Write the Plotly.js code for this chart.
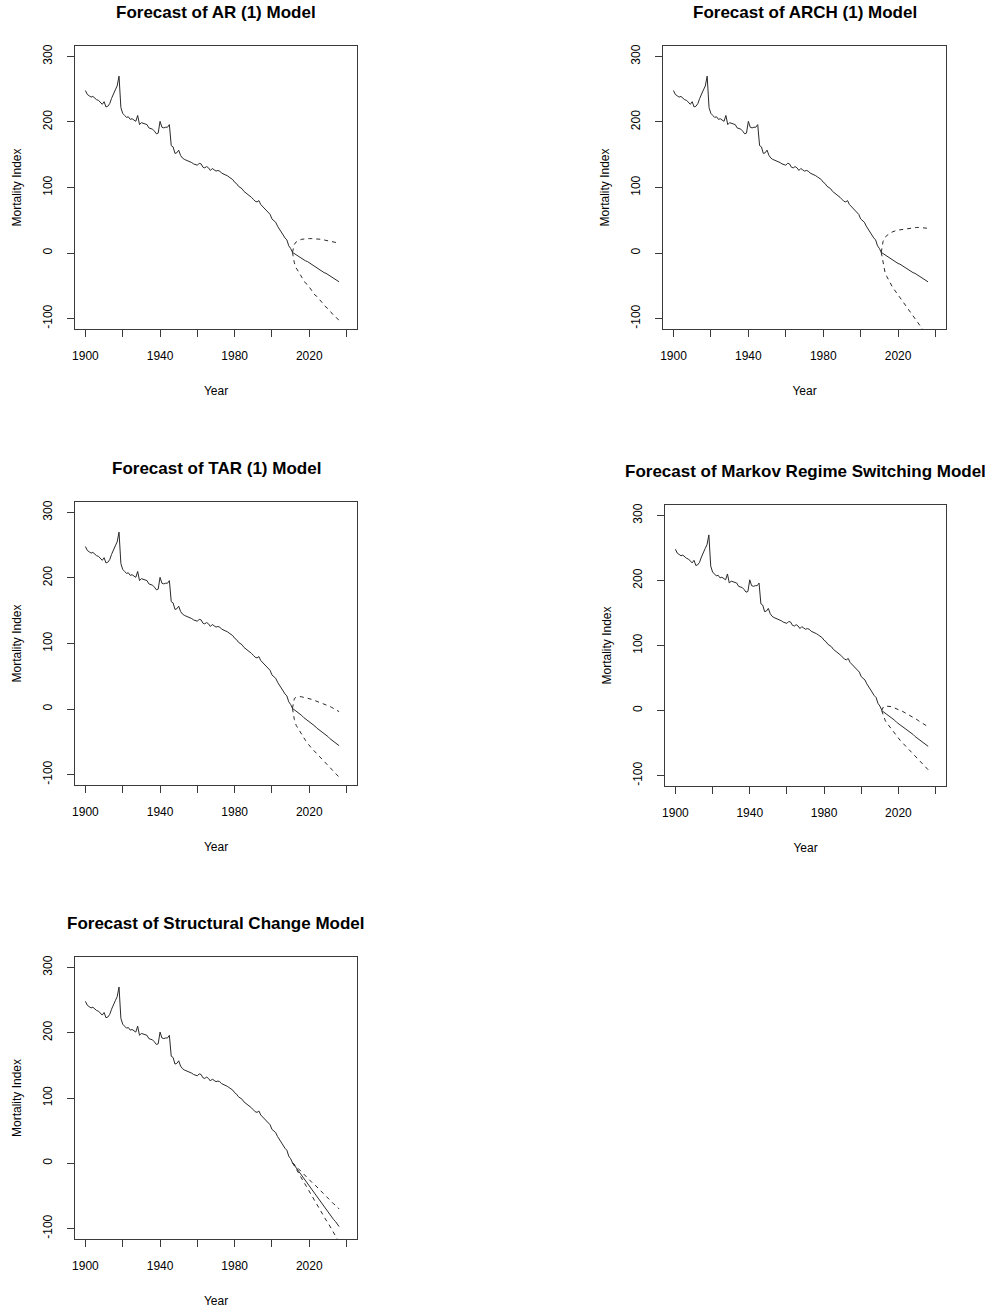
<!DOCTYPE html>
<html>
<head>
<meta charset="utf-8">
<script src="https://cdn.plot.ly/plotly-3.0.1.min.js"></script>
<style>
  html, body { margin: 0; padding: 0; background: #ffffff; }
  #chart { width: 990px; height: 1312px; }
</style>
</head>
<body>
<div id="chart"></div>
<script>
// ---------------- DATA ----------------
// Observed mortality index, one value per year starting in 1900 (1900 ... 2011)
const firstYear = 1900;
const mortality = [
  248, 242, 240, 238, 239, 236, 234, 233, 230, 227,
  231, 223, 224, 228, 236, 244, 249, 255, 270, 222,
  213, 210, 207, 208, 204, 205, 203, 201, 210, 196,
  199, 198, 196, 196, 191, 190, 189, 186, 182, 183,
  201, 192, 191, 192, 192, 196, 164, 162, 152, 153,
  157, 149, 145, 143, 142, 141, 139, 138, 136, 135,
  134, 137, 136, 131, 130, 132, 130, 126, 129, 127,
  125, 126, 125, 122, 121, 119, 118, 116, 114, 112,
  108, 106, 102, 100, 98, 94, 92, 90, 88, 85,
  82, 79, 78, 80, 74, 71, 69, 66, 63, 59,
  52, 49, 47, 41, 36, 31, 27, 23, 20, 11,
  7, 1
];

// Forecast horizon years (first entry = last observed year, used as anchor)
const forecastYears = [2011, 2012, 2013, 2014, 2015, 2016, 2017, 2018, 2019, 2020,
  2021, 2022, 2023, 2024, 2025, 2026, 2027, 2028, 2029, 2030,
  2031, 2032, 2033, 2034, 2035, 2036];

// AR (1)
const arMean  = [1, -1, -3, -4, -6, -8, -10, -12, -13, -15, -17, -19, -21, -22, -24, -26, -28, -30, -31, -33, -35, -37, -39, -40, -42, -44];
const arUpper = [1, 13, 17, 19, 20, 21, 21.5, 22, 22, 22, 22, 22, 22, 21.5, 21, 21, 20.5, 20, 19.5, 19, 18.5, 18, 17, 16.5, 16, 15];
const arLower = [1, -15, -23, -27, -32, -37, -41, -46, -48, -52, -56, -60, -64, -66, -69, -73, -76, -80, -82, -85, -88, -92, -95, -97, -100, -103];

// ARCH (1)
const archMean  = [1, -1, -3, -5, -7, -9, -10, -12, -14, -16, -17, -19, -21, -23, -24, -26, -28, -30, -31, -33, -35, -37, -38, -40, -42, -44];
const archUpper = [1, 18, 24, 27, 29, 31, 32.5, 33.5, 34.5, 35, 35.5, 36, 36.5, 37, 37.5, 38, 38, 38.5, 38.5, 39, 39, 39, 39, 38.5, 38, 37];
const archLower = [1, -17, -29, -36, -42, -47, -52, -56, -60, -64, -68, -72, -76, -80, -84, -88, -92, -96, -100, -104, -108, -112, -116, -120, -124, -128];

// TAR (1)
const tarMean  = [1, -1, -4, -6, -8, -10, -13, -15, -17, -20, -22, -24, -26, -29, -31, -33, -36, -38, -40, -42, -45, -47, -49, -52, -54, -56];
const tarUpper = [1, 16, 18, 19, 19, 18.5, 18, 17.5, 17, 16, 15, 14, 13, 12, 11, 10, 9, 8, 6.5, 5, 4, 2.5, 1, -1, -3, -4];
const tarLower = [1, -16, -25, -30, -35, -40, -44, -48, -52, -56, -59, -62, -65, -68, -71, -74, -77, -80, -83, -86, -89, -92, -95, -98, -101, -104];

// Markov Regime Switching
const msMean  = [0, -2, -4, -7, -9, -11, -13, -15, -18, -20, -22, -24, -26, -29, -31, -33, -35, -37, -40, -42, -44, -46, -48, -51, -53, -55];
const msUpper = [0, 6, 7, 7, 6.5, 6, 5, 4, 3, 2, 0.5, -1, -2.5, -4, -5.5, -7, -8.5, -10, -12, -14, -16, -18, -20, -22, -23.5, -25];
const msLower = [0, -10, -16, -20, -24, -28, -32, -35, -39, -42, -46, -49, -52, -55, -58, -61, -64, -67, -70, -73, -76, -79, -82, -85, -88, -91];

// Structural Change
const scMean  = [1, -3, -7, -11, -15, -19, -23, -27, -31, -35, -38, -42, -46, -50, -54, -58, -62, -66, -70, -74, -78, -82, -86, -89, -93, -97];
const scUpper = [1, -2, -5, -8, -11, -14, -16, -19, -22, -25, -28, -31, -33, -36, -39, -42, -45, -48, -50, -53, -56, -59, -62, -64, -67, -70];
const scLower = [1, -4, -9, -14, -19, -24, -28, -33, -38, -43, -48, -53, -58, -62, -67, -72, -77, -82, -87, -91, -96, -101, -106, -111, -116, -121];

// Axis ticks
const xTickVals = [1900, 1920, 1940, 1960, 1980, 2000, 2020, 2040];
const xTickText = ['1900', '', '1940', '', '1980', '', '2020', ''];
const yTickVals = [-100, 0, 100, 200, 300];
const yTickText = ['-100', '0', '100', '200', '300'];

const panelTitles = [
  'Forecast of AR (1) Model',
  'Forecast of ARCH (1) Model',
  'Forecast of TAR (1) Model',
  'Forecast of Markov Regime Switching Model',
  'Forecast of Structural Change Model'
];
const xTitle = 'Year';
const yTitle = 'Mortality Index';

// ---------------- LAYOUT ----------------
const W = 990, H = 1312;
// plot boxes in pixels: [left, right, top, bottom]
const boxes = [
  [75, 357, 46, 329],
  [663, 946, 46, 329],
  [75, 357, 502, 785],
  [665, 946, 505, 786],
  [75, 357, 957, 1239]
];
const series = [
  [arMean, arUpper, arLower],
  [archMean, archUpper, archLower],
  [tarMean, tarUpper, tarLower],
  [msMean, msUpper, msLower],
  [scMean, scUpper, scLower]
];

const histYears = mortality.map((_, i) => firstYear + i);
const FONT = 'Liberation Sans, Arial, Helvetica, sans-serif';
const LINE = '#2a2a2a';
const AXC = '#3a3a3a';

const traces = [];
const layout = {
  width: W, height: H,
  margin: {l: 0, r: 0, t: 0, b: 0},
  paper_bgcolor: '#ffffff',
  plot_bgcolor: '#ffffff',
  showlegend: false,
  font: {family: FONT, size: 12, color: '#000'},
  annotations: []
};

boxes.forEach((b, i) => {
  const sfx = i === 0 ? '' : String(i + 1);
  const xa = 'x' + sfx, ya = 'y' + sfx;
  const [m, u, l] = series[i];
  traces.push({x: histYears, y: mortality, xaxis: xa, yaxis: ya, type: 'scatter', mode: 'lines',
    line: {color: LINE, width: 1}, hoverinfo: 'skip'});
  traces.push({x: forecastYears, y: m, xaxis: xa, yaxis: ya, type: 'scatter', mode: 'lines',
    line: {color: LINE, width: 1}, hoverinfo: 'skip'});
  traces.push({x: forecastYears, y: u, xaxis: xa, yaxis: ya, type: 'scatter', mode: 'lines',
    line: {color: LINE, width: 1, dash: '4px,4px'}, hoverinfo: 'skip'});
  traces.push({x: forecastYears, y: l, xaxis: xa, yaxis: ya, type: 'scatter', mode: 'lines',
    line: {color: LINE, width: 1, dash: '4px,4px'}, hoverinfo: 'skip'});

  layout['xaxis' + sfx] = {
    domain: [b[0] / W, b[1] / W],
    anchor: ya,
    range: [1894.4, 2045.6],
    tickmode: 'array', tickvals: xTickVals, ticktext: xTickText,
    ticks: 'outside', ticklen: 7, tickwidth: 1, tickcolor: AXC,
    ticklabelstandoff: 9,
    showline: true, linecolor: AXC, linewidth: 1, mirror: true,
    showgrid: false, zeroline: false, fixedrange: true,
    tickfont: {family: FONT, size: 12, color: '#000'},
    title: {text: xTitle, font: {family: FONT, size: 12, color: '#000'}, standoff: 24}
  };
  layout['yaxis' + sfx] = {
    domain: [1 - b[3] / H, 1 - b[2] / H],
    anchor: xa,
    range: [-116, 316],
    tickmode: 'array', tickvals: yTickVals, ticktext: yTickText,
    tickangle: -90,
    ticks: 'outside', ticklen: 7, tickwidth: 1, tickcolor: AXC,
    ticklabelstandoff: 10,
    showline: true, linecolor: AXC, linewidth: 1, mirror: true,
    showgrid: false, zeroline: false, fixedrange: true,
    tickfont: {family: FONT, size: 12, color: '#000'},
    title: {text: yTitle, font: {family: FONT, size: 12, color: '#000'}, standoff: 17}
  };
  layout.annotations.push({
    text: '<b>' + panelTitles[i] + '</b>',
    xref: 'paper', yref: 'paper',
    x: ((b[0] + b[1]) / 2) / W,
    y: 1 - (b[2] - 34) / H,
    xanchor: 'center', yanchor: 'middle',
    showarrow: false,
    font: {family: FONT, size: 17, color: '#000'}
  });
});

Plotly.newPlot('chart', traces, layout, {staticPlot: true, displayModeBar: false});
</script>
</body>
</html>
